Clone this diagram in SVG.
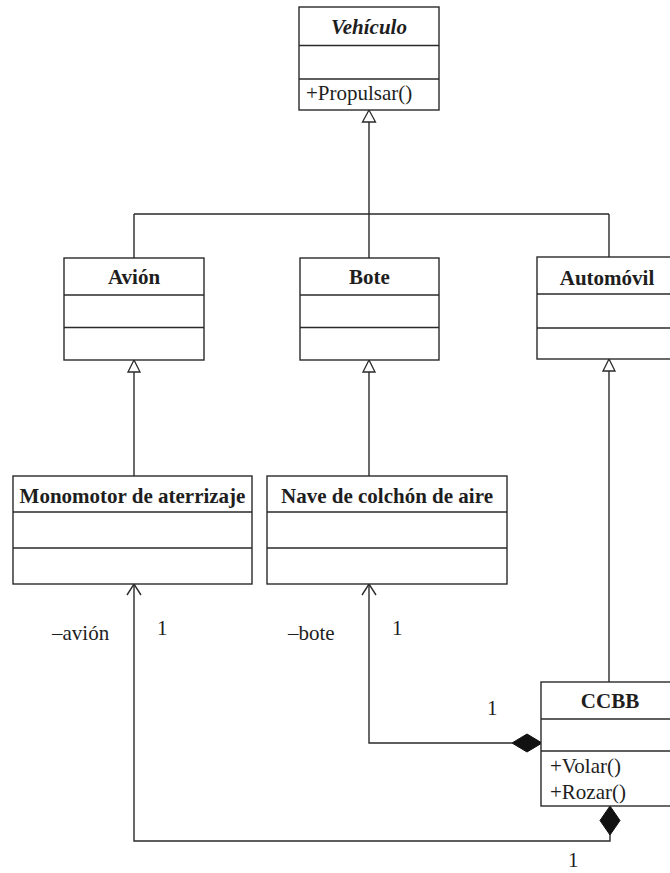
<svg xmlns="http://www.w3.org/2000/svg" width="670" height="873" viewBox="0 0 670 873">
<style>
.box{fill:#fff;stroke:#2a2a2a;stroke-width:1.4}
.div{stroke:#2a2a2a;stroke-width:1.4}
.ln{fill:none;stroke:#2a2a2a;stroke-width:1.4}
.tri{fill:#fff;stroke:#2a2a2a;stroke-width:1.3}
.dia{fill:#111;stroke:#111;stroke-width:1}
.t{font-family:"Liberation Serif","Times New Roman",serif;font-size:21px;fill:#1e1e1e}
.b{font-weight:bold;text-anchor:middle}
</style>
<rect width="670" height="873" fill="#fff"/>
<g id="connectors">
  <path class="ln" d="M369,122 V214 M134,214 H609 M134,214 V258 M369,214 V258 M609,214 V257"/>
  <polygon class="tri" points="369,110 362.5,122 375.5,122"/>
  <path class="ln" d="M134,372 V476"/>
  <polygon class="tri" points="134,360 128,372 140,372"/>
  <path class="ln" d="M369,372 V476"/>
  <polygon class="tri" points="369,360 363,372 375,372"/>
  <path class="ln" d="M609,371 V682"/>
  <polygon class="tri" points="609,359 603,371 615,371"/>
  <path class="ln" d="M369,584 V743 H512"/>
  <path class="ln" d="M362,595 L369,584 L376,595"/>
  <polygon class="dia" points="512,743 527,734 542,743 527,752"/>
  <path class="ln" d="M134,584 V841 H610 V835"/>
  <path class="ln" d="M127,595 L134,584 L141,595"/>
  <polygon class="dia" points="610,806 620,820.5 610,835 600,820.5"/>
  <text class="t" x="52" y="640">–avión</text>
  <text class="t" x="157" y="635">1</text>
  <text class="t" x="288" y="640">–bote</text>
  <text class="t" x="392" y="635">1</text>
  <text class="t" x="487" y="715">1</text>
  <text class="t" x="568" y="867">1</text>
</g>
<g id="vehiculo">
  <rect class="box" x="299" y="7" width="140" height="103"/>
  <line class="div" x1="299" y1="45.5" x2="439" y2="45.5"/>
  <line class="div" x1="299" y1="79" x2="439" y2="79"/>
  <text class="t b" x="369" y="34" font-style="italic">Vehículo</text>
  <text class="t" x="306" y="100">+Propulsar()</text>
</g>
<g id="avion">
  <rect class="box" x="64" y="258" width="140" height="102"/>
  <line class="div" x1="64" y1="295" x2="204" y2="295"/>
  <line class="div" x1="64" y1="327.5" x2="204" y2="327.5"/>
  <text class="t b" x="134" y="284">Avión</text>
</g>
<g id="bote">
  <rect class="box" x="300" y="258" width="139" height="102"/>
  <line class="div" x1="300" y1="295" x2="439" y2="295"/>
  <line class="div" x1="300" y1="327.5" x2="439" y2="327.5"/>
  <text class="t b" x="369.5" y="284">Bote</text>
</g>
<g id="automovil">
  <rect class="box" x="537" y="257" width="142" height="102"/>
  <line class="div" x1="537" y1="294" x2="679" y2="294"/>
  <line class="div" x1="537" y1="328" x2="679" y2="328"/>
  <text class="t b" x="607" y="285">Automóvil</text>
</g>
<g id="monomotor">
  <rect class="box" x="13" y="476" width="239" height="108"/>
  <line class="div" x1="13" y1="512" x2="252" y2="512"/>
  <line class="div" x1="13" y1="548" x2="252" y2="548"/>
  <text class="t b" x="132.5" y="503">Monomotor de aterrizaje</text>
</g>
<g id="nave">
  <rect class="box" x="267" y="476" width="240" height="108"/>
  <line class="div" x1="267" y1="512" x2="507" y2="512"/>
  <line class="div" x1="267" y1="548" x2="507" y2="548"/>
  <text class="t b" x="387" y="503">Nave de colchón de aire</text>
</g>
<g id="ccbb">
  <rect class="box" x="541" y="682" width="138" height="124"/>
  <line class="div" x1="541" y1="719" x2="679" y2="719"/>
  <line class="div" x1="541" y1="751" x2="679" y2="751"/>
  <text class="t b" x="610" y="708">CCBB</text>
  <text class="t" x="550" y="773">+Volar()</text>
  <text class="t" x="550" y="799">+Rozar()</text>
</g>
</svg>
